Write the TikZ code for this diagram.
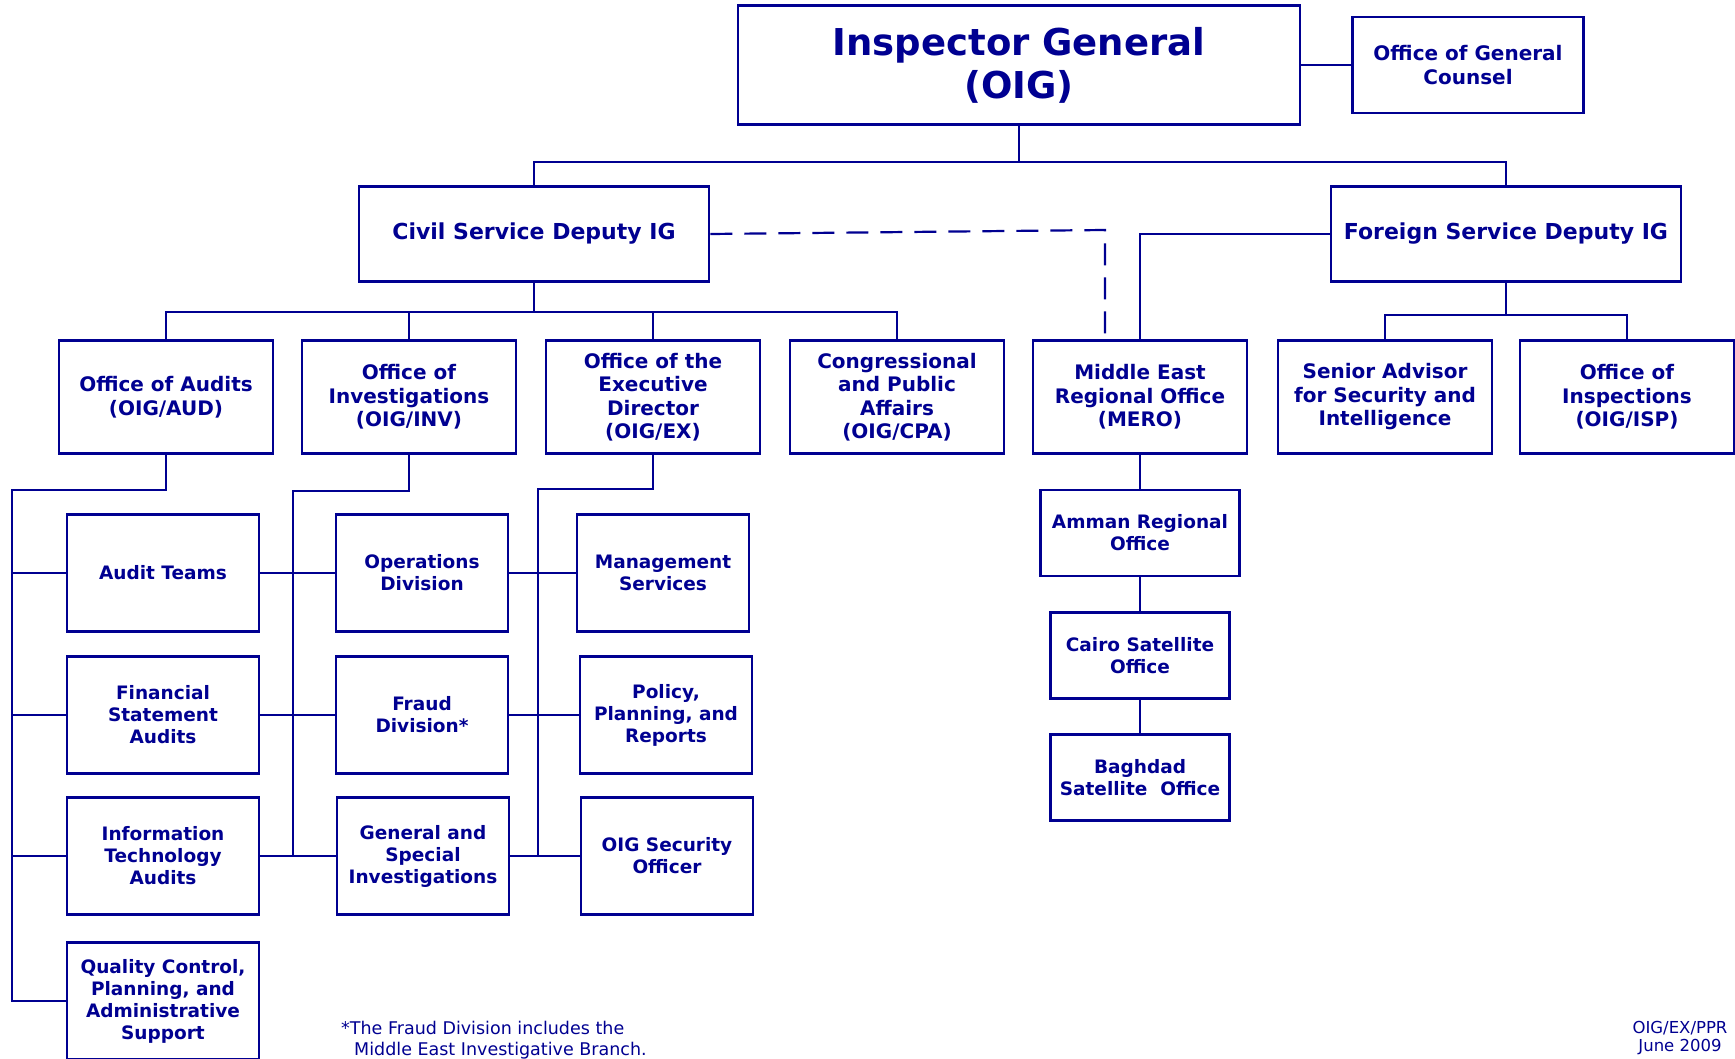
\documentclass[tikz,border=0pt]{standalone}
\usepackage{fontspec}
\setmainfont{DejaVu Sans}
\usetikzlibrary{positioning, calc}
\definecolor{oigblue}{RGB}{0,0,145}

\begin{document}
\begin{tikzpicture}[x=1pt, y=-1pt, node distance=34pt]
	\tikzstyle{unit} = [draw=oigblue, line width=2.6pt, rectangle, fill=white, text=oigblue, align=center, inner sep=0pt, font=\bfseries\fontsize{20}{23.5}\selectfont]
	\tikzstyle{deputy} = [unit, minimum width=350pt, minimum height=95pt, font=\bfseries\fontsize{22}{26}\selectfont]
	\tikzstyle{office} = [unit, minimum width=214pt, minimum height=113pt]
	\tikzstyle{branch} = [unit, minimum width=172pt, minimum height=117pt, font=\bfseries\fontsize{18.5}{22}\selectfont]
	\tikzstyle{field} = [unit, minimum width=179pt, minimum height=86pt, font=\bfseries\fontsize{18.5}{22}\selectfont]
	\tikzstyle{wire} = [draw=oigblue, line width=2.2pt]
	\tikzstyle{note} = [text=oigblue, inner sep=0pt]

	\useasboundingbox (0,0) rectangle (1735,1059);

	% top level
	\node[unit, minimum width=562pt, minimum height=119pt, font=\bfseries\fontsize{37}{43}\selectfont] (ig) at (1019,65) {Inspector General\\(OIG)};
	\node[unit, minimum width=231pt, minimum height=96pt] (ogc) at (1468,65) {Office of General\\Counsel};
	\node[deputy] (civil) at (534,234) {Civil Service Deputy IG};
	\node[deputy] (fs) at (1506,234) {Foreign Service Deputy IG};

	% second level
	\node[office] (oa) at (166,397) {Office of Audits\\(OIG/AUD)};
	\node[office] (oi) at (409,397) {Office of\\Investigations\\(OIG/INV)};
	\node[office] (oed) at (653,397) {Office of the\\Executive\\Director\\(OIG/EX)};
	\node[office] (cpa) at (897,397) {Congressional\\and Public\\Affairs\\(OIG/CPA)};
	\node[office] (mero) at (1140,397) {Middle East\\Regional Office\\(MERO)};
	\node[office] (sa) at (1385,397) {Senior Advisor\\for Security and\\Intelligence};
	\node[office] (oins) at (1627,397) {Office of\\Inspections\\(OIG/ISP)};

	% audits
	\node[branch, minimum width=192pt] (at) at (163,573) {Audit Teams};
	\node[branch, minimum width=192pt] (fsa) at (163,715) {Financial\\Statement\\Audits};
	\node[branch, minimum width=192pt] (ita) at (163,856) {Information\\Technology\\Audits};
	\node[branch, minimum width=192pt] (qc) at (163,1001) {Quality Control,\\Planning, and\\Administrative\\Support};

	% investigations
	\node[branch] (ops) at (422,573) {Operations\\Division};
	\node[branch] (fraud) at (422,715) {Fraud\\Division*};
	\node[branch] (gsi) at (423,856) {General and\\Special\\Investigations};

	% executive director
	\node[branch] (mgmt) at (663,573) {Management\\Services};
	\node[branch] (ppr) at (666,715) {Policy,\\Planning, and\\Reports};
	\node[branch] (sec) at (667,856) {OIG Security\\Officer};

	% MERO offices
	\node[field, minimum width=199pt] (amman) at (1140,533) {Amman Regional\\Office};
	\node[field, below=34pt of amman] (cairo) {Cairo Satellite\\Office};
	\node[field, below=33pt of cairo] (baghdad) {Baghdad\\Satellite\ \ Office};

	% connectors
	\coordinate (topbus) at (1019,162);
	\draw[wire] (ig.south) -- (topbus);
	\draw[wire] (civil.north) |- (topbus) -| (fs.north);
	\draw[wire] (ig.east) -- (ogc.west);

	\coordinate (csbus) at (534,312);
	\draw[wire] (civil.south) -- (csbus);
	\draw[wire] (oa.north) |- (csbus) -| (cpa.north);
	\draw[wire] (oi.north) -- (oi.north |- csbus);
	\draw[wire] (oed.north) -- (oed.north |- csbus);

	\coordinate (fsbus) at (1506,315);
	\draw[wire] (fs.south) -- (fsbus);
	\draw[wire] (sa.north) |- (fsbus) -| (oins.north);
	\draw[wire] (fs.west) -| (mero.north);

	\coordinate (dashbend) at (1105,230);
	\draw[wire, dash pattern=on 22pt off 12pt] (civil.east) -- (dashbend) -- (dashbend |- mero.north);

	\coordinate (audj) at (12,490);
	\draw[wire] (oa.south) |- (audj) |- (qc.west);
	\foreach \n in {at, fsa, ita}
		\draw[wire] (audj |- \n.west) -- (\n.west);

	\coordinate (invj) at (293,491);
	\draw[wire] (oi.south) |- (invj) -- (invj |- gsi.west);
	\draw[wire] (at.east) -- (ops.west);
	\draw[wire] (fsa.east) -- (fraud.west);
	\draw[wire] (ita.east) -- (gsi.west);

	\coordinate (exj) at (538,489);
	\draw[wire] (oed.south) |- (exj) -- (exj |- sec.west);
	\draw[wire] (ops.east) -- (mgmt.west);
	\draw[wire] (fraud.east) -- (ppr.west);
	\draw[wire] (gsi.east) -- (sec.west);

	\path[wire]
		(mero) edge (amman)
		(amman) edge (cairo)
		(cairo) edge (baghdad)
	;

	% notes
	\node[note, anchor=north west, align=left, font=\fontsize{17.5}{21}\selectfont] (fnote) at (341,1021) {*The Fraud Division includes the\\\hspace*{13pt}Middle East Investigative Branch.};
	\node[note, align=center, font=\fontsize{16.5}{17.5}\selectfont] (stamp) at (1680,1038) {OIG/EX/PPR\\June 2009};
\end{tikzpicture}
\end{document}
